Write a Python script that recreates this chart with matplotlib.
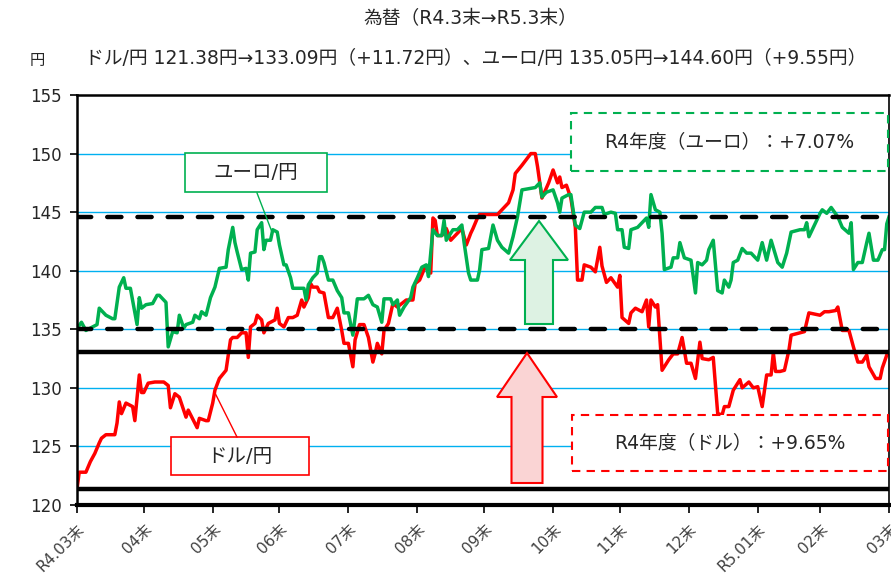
import matplotlib
matplotlib.use("Agg")
import matplotlib.pyplot as plt
from matplotlib.patches import Rectangle, Polygon
import pandas as pd

plt.rcParams['font.family'] = ['DejaVu Sans', 'Noto Sans CJK JP']

# ---------------- data ----------------
start_date = "2022-03-31"
usd_days = [0, 1, 4, 6, 8, 10, 11, 13, 17, 18, 19, 20, 22, 25, 26, 28, 29, 30, 32, 35, 39, 41, 42, 44, 46, 49, 50,
            54, 55, 58, 59, 61, 62, 64, 67, 69, 70, 72, 74, 76, 77, 78, 80, 81, 83, 84, 86, 89, 90, 91, 93, 95, 97,
            99, 101, 102, 104, 105, 106, 108, 109, 111, 113, 115, 117, 119, 120, 122, 124, 125, 127, 129, 131, 133,
            134, 135, 137, 138, 140, 142, 144, 146, 148, 151, 152, 154, 156, 157, 159, 160, 161, 162, 164, 166, 168,
            170, 171, 173, 175, 177, 178, 180, 181, 182, 189, 190, 192, 194, 196, 197, 200, 204, 206, 207, 209, 212,
            214, 216, 217, 218, 220, 222, 224, 225, 227, 228, 231, 233, 235, 236, 238, 240, 243, 244, 245, 248, 249,
            251, 254, 256, 257, 258, 260, 261, 263, 266, 268, 270, 272, 274, 276, 278, 280, 281, 284, 286, 288, 290,
            291, 293, 295, 298, 299, 302, 304, 306, 308, 310, 312, 313, 314, 316, 318, 320, 321, 325, 327, 329, 334,
            336, 338, 341, 342, 344, 347, 349, 351, 353, 355, 356, 359, 361, 362, 364, 365]
usd_vals = [121.38, 122.8, 122.8, 123.7, 124.4, 125.3, 125.7, 126.0, 126.0, 127.0, 128.8, 127.8, 128.7, 128.4, 127.2,
            131.1, 129.6, 129.6, 130.4, 130.5, 130.5, 130.2, 128.3, 129.5, 129.2, 127.5, 128.1, 126.6, 127.4, 127.2,
            127.2, 128.7, 129.8, 130.8, 131.5, 134.1, 134.3, 134.3, 134.7, 134.7, 132.6, 135.2, 135.5, 136.2, 135.8,
            134.7, 135.5, 135.8, 136.8, 135.5, 135.2, 136.0, 136.0, 136.2, 137.5, 136.9, 137.7, 138.9, 138.6, 138.6,
            138.2, 138.1, 136.0, 136.0, 136.8, 134.9, 133.8, 133.8, 131.8, 134.1, 135.4, 135.4, 134.3, 132.2, 132.9,
            133.8, 132.9, 134.9, 135.5, 137.2, 136.9, 137.2, 137.5, 137.5, 138.9, 139.2, 140.1, 140.3, 139.8, 144.5,
            144.3, 143.0, 143.0, 143.6, 142.6, 143.0, 143.2, 143.6, 142.2, 143.2, 143.6, 144.5, 144.8, 144.8, 144.8,
            145.0, 145.4, 145.8, 146.9, 148.3, 149.0, 150.0, 150.0, 148.9, 146.2, 147.5, 148.6, 147.5, 148.0, 147.1,
            147.3, 146.2, 143.7, 139.2, 139.2, 140.5, 140.3, 139.9, 142.0, 140.4, 139.0, 139.4, 138.6, 139.6, 136.0,
            135.5, 136.4, 136.8, 136.5, 137.5, 135.2, 137.5, 136.9, 137.1, 131.5, 132.4, 132.9, 132.9, 134.3, 132.1,
            132.1, 130.8, 133.9, 132.5, 132.4, 132.6, 127.8, 127.7, 128.4, 128.4, 129.8, 130.7, 130.0, 130.5, 130.0,
            130.1, 128.4, 131.1, 131.1, 133.0, 131.4, 131.4, 131.5, 133.2, 134.5, 134.7, 134.8, 136.4, 136.2, 136.5,
            136.5, 136.6, 136.9, 134.9, 134.9, 133.5, 132.2, 132.2, 132.8, 131.8, 130.8, 130.8, 131.7, 132.8, 133.09]

eur_days = [0, 2, 4, 7, 9, 10, 12, 13, 16, 17, 19, 20, 21, 22, 24, 26, 27, 28, 29, 31, 34, 36, 37, 39, 40, 41, 43,
            45, 46, 48, 49, 52, 53, 55, 56, 58, 60, 62, 64, 67, 68, 70, 71, 72, 74, 76, 77, 78, 80, 81, 83, 84, 85,
            87, 88, 90, 91, 93, 94, 96, 97, 100, 102, 103, 104, 106, 108, 109, 110, 111, 113, 115, 117, 119, 120,
            122, 124, 125, 126, 129, 131, 133, 135, 137, 138, 141, 142, 144, 145, 147, 150, 151, 153, 155, 157, 158,
            160, 162, 164, 165, 166, 169, 171, 173, 174, 176, 177, 180, 181, 182, 185, 187, 189, 191, 194, 196, 198,
            200, 203, 206, 208, 209, 211, 214, 216, 217, 218, 221, 222, 224, 226, 228, 231, 233, 236, 237, 240, 242,
            243, 245, 246, 248, 249, 252, 254, 256, 257, 258, 260, 262, 263, 264, 267, 268, 270, 271, 273, 276, 277,
            278, 279, 281, 283, 284, 286, 288, 290, 291, 293, 294, 295, 297, 299, 301, 303, 306, 308, 310, 312, 315,
            317, 319, 320, 321, 325, 327, 328, 329, 332, 334, 335, 337, 339, 342, 344, 347, 348, 349, 351, 353, 355,
            356, 358, 360, 362, 363, 364, 365]
eur_vals = [135.05, 135.6, 134.9, 135.2, 135.4, 136.8, 136.4, 136.2, 135.9, 135.9, 138.6, 139.0, 139.4, 138.5, 138.5,
            136.4, 135.4, 137.7, 136.8, 137.1, 137.2, 137.9, 137.9, 137.5, 137.3, 133.5, 134.8, 134.7, 136.2, 135.1,
            135.4, 135.6, 136.2, 135.9, 136.5, 136.2, 137.7, 138.6, 140.2, 140.3, 141.8, 143.7, 142.4, 141.6, 140.1,
            140.2, 139.2, 141.5, 141.6, 143.5, 144.1, 141.8, 142.6, 142.6, 143.5, 143.3, 142.2, 140.5, 140.5, 139.4,
            138.5, 138.5, 138.5, 137.5, 138.8, 139.4, 139.8, 141.2, 141.2, 140.7, 139.2, 139.2, 138.3, 137.7, 136.4,
            136.4, 134.5, 136.0, 137.6, 137.6, 137.9, 137.1, 136.9, 135.6, 137.6, 137.6, 137.1, 137.5, 136.2, 136.9,
            137.7, 138.6, 139.4, 140.3, 140.5, 139.5, 143.5, 143.0, 143.0, 144.3, 142.6, 143.5, 143.5, 143.9, 142.4,
            139.8, 139.2, 139.2, 140.1, 141.8, 141.9, 143.9, 142.6, 142.0, 141.5, 142.9, 144.6, 146.9, 147.0, 147.1,
            147.5, 146.3, 146.7, 146.9, 145.8, 145.0, 146.2, 146.5, 146.5, 143.9, 143.6, 145.0, 145.0, 145.4, 145.4,
            144.8, 145.0, 144.9, 143.5, 143.5, 142.0, 141.9, 143.5, 143.7, 144.1, 144.5, 143.7, 146.5, 145.2, 145.0,
            143.2, 140.1, 140.3, 141.1, 141.1, 142.4, 141.1, 140.9, 139.5, 138.1, 140.7, 140.5, 140.9, 141.8, 142.6,
            138.3, 138.1, 139.2, 138.6, 139.2, 140.7, 140.9, 141.9, 141.5, 141.5, 140.9, 142.4, 140.9, 142.6, 140.7,
            140.3, 141.5, 142.4, 143.3, 143.5, 143.5, 144.1, 142.9, 144.1, 144.9, 145.2, 144.9, 145.4, 144.6, 143.7,
            143.2, 144.1, 140.1, 140.7, 140.7, 142.4, 143.2, 140.9, 140.9, 141.8, 141.8, 144.0, 144.60]

usd_start, usd_end = 121.38, 133.09
eur_start, eur_end = 135.05, 144.60

tick_dates = ["2022-03-31", "2022-04-30", "2022-05-31", "2022-06-30", "2022-07-31", "2022-08-31",
              "2022-09-30", "2022-10-31", "2022-11-30", "2022-12-31", "2023-01-31", "2023-02-28", "2023-03-31"]
tick_labels = ["R4.03末", "04末", "05末", "06末", "07末", "08末", "09末", "10末", "11末", "12末",
               "R5.01末", "02末", "03末"]
y_ticks = [120, 125, 130, 135, 140, 145, 150, 155]

title = "為替（R4.3末→R5.3末）"
subtitle = "ドル/円 121.38円→133.09円（+11.72円）、ユーロ/円 135.05円→144.60円（+9.55円）"

# ---------------- figure ----------------
fig = plt.figure(figsize=(8.91, 5.73), dpi=100)
ax = fig.add_axes([77 / 891, 68 / 573, 812 / 891, 410 / 573])

t0 = pd.Timestamp(start_date)
usd_x = t0 + pd.to_timedelta(usd_days, unit="D")
eur_x = t0 + pd.to_timedelta(eur_days, unit="D")
ticks = pd.to_datetime(tick_dates)

ax.set_xlim(ticks[0], ticks[-1])
ax.set_ylim(120, 155)

# grid
for v in y_ticks[1:-1]:
    ax.axhline(v, color="#00B0F0", lw=1.0, zorder=1)

ax.plot(usd_x, usd_vals, color="#FF0000", lw=2.5, zorder=3, solid_joinstyle="round")
ax.plot(eur_x, eur_vals, color="#00B050", lw=2.5, zorder=3, solid_joinstyle="round")

# reference lines
for v in (eur_start, eur_end):
    ax.axhline(v, color="black", lw=3.2, ls=(0, (3.2, 3.6)), dash_capstyle="round", zorder=4)
for v in (usd_start, usd_end):
    ax.axhline(v, color="black", lw=3.2, zorder=4)

# axes style
ax.set_yticks(y_ticks)
ax.set_yticklabels([str(v) for v in y_ticks], fontsize=12, color="#262626")
ax.set_xticks(ticks)
ax.set_xticklabels(tick_labels, fontsize=11, color="#404040", rotation=45, ha="right", va="top",
                   rotation_mode="anchor")
ax.tick_params(axis="y", direction="out", length=5, width=1.2, pad=6)
ax.tick_params(axis="x", direction="out", length=6, width=1.2, pad=6)
for s in ("left", "top"):
    ax.spines[s].set_linewidth(1.8)
ax.spines["bottom"].set_linewidth(3.0)
ax.spines["right"].set_linewidth(1.2)
for s in ax.spines.values():
    s.set_color("black")
    s.set_zorder(6)


def axp(px, py):
    return ((px - 77) / 812, (505 - py) / 410)


# title texts
fig.text(470 / 891, 1 - 19 / 573, title, ha="center", va="center", fontsize=13.5, color="#262626")
fig.text(476 / 891, 1 - 58 / 573, subtitle, ha="center", va="center", fontsize=13.5, color="#262626")
fig.text(37 / 891, 1 - 61 / 573, "円", ha="center", va="center", fontsize=11, color="#262626")


# label boxes
def box(x0, y0, x1, y1, ec, ls="-", lw=1.2):
    (ax0, ay1) = axp(x0, y0)
    (ax1, ay0) = axp(x1, y1)
    r = Rectangle((ax0, ay0), ax1 - ax0, ay1 - ay0, transform=ax.transAxes, facecolor="white",
                  edgecolor=ec, lw=lw, ls=ls, zorder=7, clip_on=False)
    ax.add_patch(r)
    return ((ax0 + ax1) / 2, (ay0 + ay1) / 2)


c = box(185, 153, 327, 192, "#00B050")
ax.text(*c, "ユーロ/円", transform=ax.transAxes, ha="center", va="center", fontsize=14, color="#262626", zorder=8)
ax.plot(*zip(axp(257, 193), axp(272, 232)), transform=ax.transAxes, color="#00B050", lw=1.0, zorder=7)

c = box(171, 437, 309, 475, "#FF0000")
ax.text(*c, "ドル/円", transform=ax.transAxes, ha="center", va="center", fontsize=14, color="#262626", zorder=8)
ax.plot(*zip(axp(237, 437), axp(215, 393)), transform=ax.transAxes, color="#FF0000", lw=1.0, zorder=7)

c = box(571, 113, 888, 171, "#00B050", ls=(0, (4, 3)), lw=1.5)
ax.text(*c, "R4年度（ユーロ）：+7.07%", transform=ax.transAxes, ha="center", va="center", fontsize=13.5,
        color="#262626", zorder=8)
c = box(572, 415, 888, 471, "#FF0000", ls=(0, (4, 3)), lw=1.5)
ax.text(*c, "R4年度（ドル）：+9.65%", transform=ax.transAxes, ha="center", va="center", fontsize=13.5,
        color="#262626", zorder=8)


# block arrows
def up_arrow(cx, tip_y, base_y, bottom_y, half_shaft, half_head, fc, ec):
    pts = [(cx, tip_y), (cx + half_head, base_y), (cx + half_shaft, base_y), (cx + half_shaft, bottom_y),
           (cx - half_shaft, bottom_y), (cx - half_shaft, base_y), (cx - half_head, base_y)]
    pts = [axp(x, y) for x, y in pts]
    ax.add_patch(Polygon(pts, closed=True, transform=ax.transAxes, facecolor=fc, edgecolor=ec, lw=1.5, zorder=5))


up_arrow(539, 221, 260, 324, 14, 29, "#DDF2E3", "#00B050")
up_arrow(527, 353, 397, 483, 15.5, 30, "#FAD4D4", "#FF0000")

fig.savefig("out.png", dpi=100)
